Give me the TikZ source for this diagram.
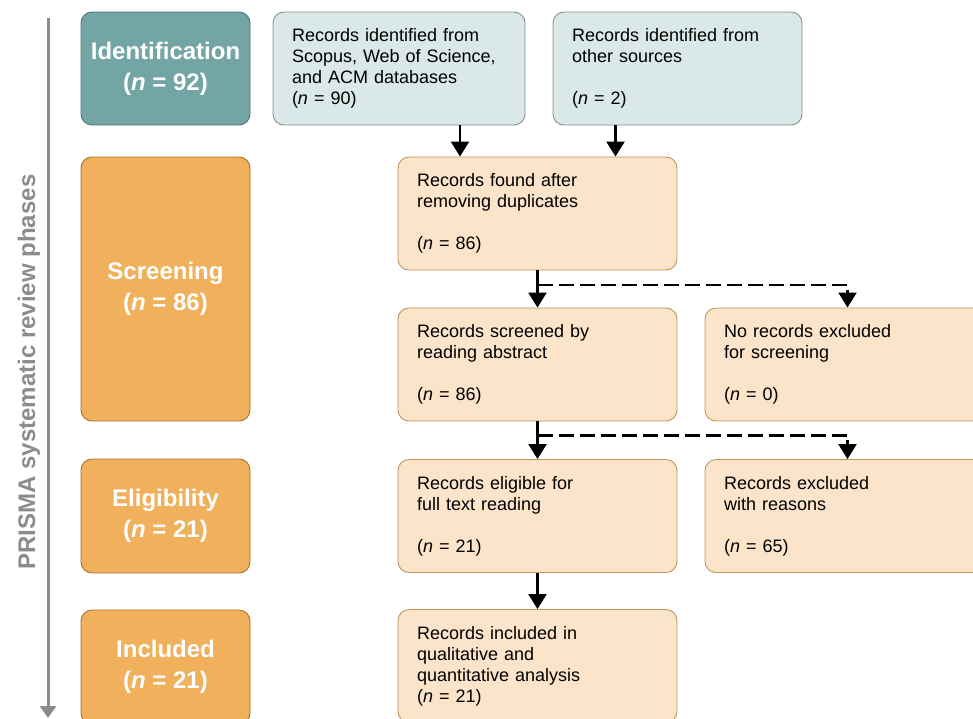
\documentclass[tikz,border=0pt]{standalone}
\usepackage{fontspec}
\setmainfont{Liberation Sans}
\usepackage{xcolor}
\usetikzlibrary{arrows.meta,calc}

\definecolor{idfill}{HTML}{73A5A4}
\definecolor{iddraw}{HTML}{4F7675}
\definecolor{phfill}{HTML}{F0B05C}
\definecolor{phdraw}{HTML}{A5732E}
\definecolor{srcfill}{HTML}{DAE8E8}
\definecolor{srcdraw}{HTML}{858F8E}
\definecolor{recfill}{HTML}{FBE4C9}
\definecolor{recdraw}{HTML}{BE965C}
\definecolor{axisgray}{HTML}{8C8C8C}

\begin{document}
\begin{tikzpicture}[x=1pt,y=-1pt,
  phase/.style={draw=phdraw, fill=phfill, rounded corners=11pt, line width=0.9pt,
    text=white, align=center, minimum width=169pt,
    font=\fontsize{24}{31}\selectfont\bfseries},
  srcbox/.style={draw=srcdraw, fill=srcfill, rounded corners=11pt, line width=0.9pt,
    align=left, inner xsep=19pt, minimum height=113pt,
    font=\fontsize{18}{21}\selectfont},
  recbox/.style={draw=recdraw, fill=recfill, rounded corners=11pt, line width=0.9pt,
    align=left, inner xsep=19pt, minimum height=113pt, text width=241pt,
    font=\fontsize{18}{21}\selectfont},
  flow/.style={line width=2.4pt, -{Triangle[width=18pt,length=15pt]}},
  skip/.style={flow, dash pattern=on 15pt off 6pt}]
  \useasboundingbox (0,0) rectangle (973,718);

  % phases along the left
  \coordinate (axtop) at (48,18);
  \coordinate (axbot) at (48,718);
  \draw [axisgray, line width=3pt, -{Triangle[width=16pt,length=12pt]}] (axtop) -- (axbot);
  \node (axis) [rotate=90, text=axisgray, font=\fontsize{24}{24}\selectfont\bfseries]
    at (29,372) {PRISMA systematic review phases};

  \node (ident) [phase, draw=iddraw, fill=idfill, minimum height=113pt] at (165.5,68.5)
    {Identification\\(\textit{n} = 92)};
  \node (screen) [phase, minimum height=264pt] at (165.5,289)
    {Screening\\(\textit{n} = 86)};
  \node (elig) [phase, minimum height=114pt] at (165.5,516)
    {Eligibility\\(\textit{n} = 21)};
  \node (incl) [phase, minimum height=114pt] at (165.5,667)
    {Included\\(\textit{n} = 21)};

  % identification
  \node (scopus) [srcbox, text width=214pt] at (399,68.5)
    {Records identified from\\Scopus, Web of Science,\\and ACM databases\\(\textit{n} = 90)};
  \node (other) [srcbox, text width=211pt] at (677.5,68.5)
    {Records identified from\\other sources\\[21pt](\textit{n} = 2)};

  % screening
  \node (found) [recbox] at (537.5,213.5)
    {Records found after\\removing duplicates\\[21pt](\textit{n} = 86)};
  \node (screened) [recbox] at (537.5,364.5)
    {Records screened by\\reading abstract\\[21pt](\textit{n} = 86)};
  \node (noexcl) [recbox, text width=247pt] at (847.5,364.5)
    {No records excluded\\for screening\\[21pt](\textit{n} = 0)};

  % eligibility
  \node (eligible) [recbox] at (537.5,516)
    {Records eligible for\\full text reading\\[21pt](\textit{n} = 21)};
  \node (excluded) [recbox, text width=247pt] at (847.5,516)
    {Records excluded\\with reasons\\[21pt](\textit{n} = 65)};

  % included
  \node (included) [recbox] at (537.5,666)
    {Records included in\\qualitative and\\quantitative analysis\\(\textit{n} = 21)};

  % connectors
  \draw [flow] ([xshift=61pt]scopus.south) -- ([xshift=61pt]scopus.south |- found.north);
  \draw [flow] ([xshift=-62pt]other.south) -- ([xshift=-62pt]other.south |- found.north);
  \draw [flow] (found) -- (screened);
  \coordinate (split1) at ($(found.south)!0.4!(screened.north)$);
  \draw [skip] (split1) -| (noexcl.north);
  \draw [flow] (screened) -- (eligible);
  \coordinate (split2) at ($(screened.south)!0.37!(eligible.north)$);
  \draw [skip] (split2) -| (excluded.north);
  \draw [flow] (eligible) -- (included);
\end{tikzpicture}
\end{document}
